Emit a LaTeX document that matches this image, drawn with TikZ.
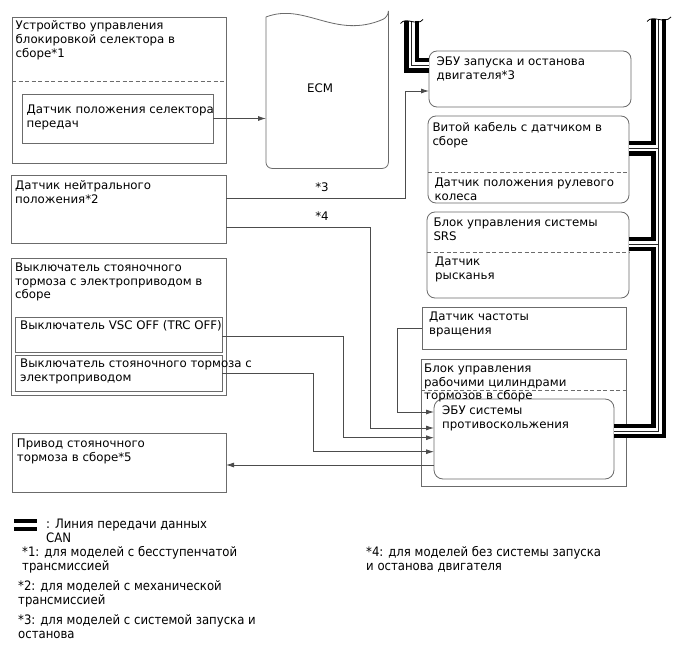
\documentclass[tikz,border=0pt]{standalone}
\usepackage{fontspec}
\setmainfont{DejaVu Sans}
\newfontfamily\condfont{DejaVu Sans Condensed}
\usetikzlibrary{arrows.meta}
\definecolor{boxgray}{gray}{0.42}
\definecolor{linegray}{gray}{0.3}
\newcommand\buspaths[1]{%
  \draw[#1] (busLtop) |- ([yshift=13.5pt]ecu.west);
  \draw[#1] ([yshift=8pt]abs.east) -| (busRtop);
  \draw[#1] ([yshift=11pt]twist.east) -- ([yshift=11pt]twist.east -| busRtop);
  \draw[#1] ([yshift=11pt]srs.east) -- ([yshift=11pt]srs.east -| busRtop);
}
\begin{document}
\begin{tikzpicture}[x=1pt,y=-1pt,
  box/.style={draw=boxgray, line width=0.8pt, anchor=north west, inner sep=0pt, outer sep=0pt},
  rbox/.style={box, rounded corners=8pt},
  txt/.style={anchor=north west, inner sep=0pt, align=left, font=\fontsize{11.8}{13.7}\selectfont},
  lgd/.style={anchor=north west, inner sep=0pt, align=left, font=\condfont\fontsize{13}{14.5}\selectfont},
  conn/.style={draw=linegray, line width=0.8pt},
  arr/.style={conn, -{Latex[length=8pt,width=5pt]}},
  dsh/.style={draw=boxgray, line width=0.8pt, dash pattern=on 4pt off 2.5pt},
  busblack/.style={line width=14.5pt, draw=black, line join=miter},
  buswhite/.style={line width=6pt, draw=white, line join=miter},
  busthin/.style={line width=0.9pt, draw=black!85, line join=miter},
  brk/.style={draw=black, line width=0.8pt},
]
\useasboundingbox (0,0) rectangle (688,658);
\fill[white] (0,0) rectangle (688,658);

% ---- boxes ----
\node[box, minimum width=214pt, minimum height=146pt] (b1) at (12,17) {};
\node[box, minimum width=191pt, minimum height=49pt] (b1in) at (22,94) {};
\node[box, minimum width=215pt, minimum height=68pt] (neut) at (11,175) {};
\node[box, minimum width=215pt, minimum height=137pt] (pa) at (11,258) {};
\node[box, minimum width=207pt, minimum height=35pt] (vsc) at (15,317) {};
\node[box, minimum width=207pt, minimum height=36pt] (psw) at (15,355) {};
\node[box, minimum width=214pt, minimum height=59pt] (act) at (12,433) {};
\node[rbox, minimum width=202pt, minimum height=56pt] (ecu) at (429,51) {};
\node[rbox, minimum width=201pt, minimum height=87pt] (twist) at (428,116) {};
\node[rbox, minimum width=202pt, minimum height=86pt] (srs) at (427,212) {};
\node[box, minimum width=204pt, minimum height=42pt] (speed) at (422,307) {};
\node[box, minimum width=205pt, minimum height=127pt] (bb) at (421,359) {};
\node[rbox, rounded corners=9pt, minimum width=180pt, minimum height=80pt] (abs) at (434,399) {};
\node[anchor=north west, inner sep=0pt, minimum width=122pt, minimum height=151pt] (ecmbox) at (266,17) {};

% ECM shape
\draw[boxgray, line width=0.8pt, rounded corners=6pt]
  (ecmbox.north west) .. controls (305,2) and (335,40) .. (ecmbox.north east)
  [sharp corners] -- (ecmbox.north east) [rounded corners=6pt] -- (ecmbox.south east) -- (ecmbox.south west) -- (ecmbox.north west);

% dashed separators
\draw[dsh] (b1.west |- 0,81) -- (b1.east |- 0,81);
\draw[dsh] (twist.west |- 0,172) -- (twist.east |- 0,172);
\draw[dsh] (srs.west |- 0,252) -- (srs.east |- 0,252);
\draw[dsh] (bb.west |- 0,390.7) -- (bb.east |- 0,390.7);

% ---- texts ----
\node[txt] (t1) at (15.5,20.5) {Устройство управления\\блокировкой селектора в\\сборе*1};
\node[txt] (t1in) at (26.5,104.5) {Датчик положения селектора\\передач};
\node[inner sep=0pt, font=\fontsize{11.8}{13.7}\selectfont] (tecm) at (320,88) {ECM};
\node[txt] (tecu) at (436.5,56.5) {ЭБУ запуска и останова\\двигателя*3};
\node[txt] (ttw) at (432.3,122.5) {Витой кабель с датчиком в\\сборе};
\node[txt] (ttw2) at (434.3,177.5) {Датчик положения рулевого\\колеса};
\node[txt] (tsrs) at (433.3,217.5) {Блок управления системы\\SRS};
\node[txt] (tsrs2) at (435,256.5) {Датчик\\рысканья};
\node[txt] (tsp) at (429,311.5) {Датчик частоты\\вращения};
\node[txt] (tbb) at (424,363.5) {Блок управления\\рабочими цилиндрами\\тормозов в сборе};
\node[txt] (tabs) at (442,405.5) {ЭБУ системы\\противоскольжения};
\node[txt] (tneut) at (15,180.5) {Датчик нейтрального\\положения*2};
\node[txt] (tpa) at (15,262.5) {Выключатель стояночного\\тормоза с электроприводом в\\сборе};
\node[txt] (tvsc) at (20,320.5) {Выключатель VSC OFF (TRC OFF)};
\node[txt] (tpsw) at (20,358.5) {Выключатель стояночного тормоза с\\электроприводом};
\node[txt] (tact) at (16.7,438.5) {Привод стояночного\\тормоза в сборе*5};
\node[inner sep=0pt, font=\fontsize{11.8}{13.7}\selectfont] (l3) at (322,187) {*3};
\node[inner sep=0pt, font=\fontsize{11.8}{13.7}\selectfont] (l4) at (322,216) {*4};

% ---- connectors ----
\draw[arr] (b1in.east) -- (b1in.east -| ecmbox.west);
\draw[arr] ([yshift=10.7pt]neut.east) -- ++(179,0) |- ([yshift=-12pt]ecu.west);
\draw[arr] ([yshift=-18.7pt]neut.east) -- ++(144,0) |- ([yshift=11pt]abs.west);
\draw[arr] (speed.west) -- ++(-25,0) |- ([yshift=27pt]abs.west);
\draw[arr] ([yshift=-1.5pt]vsc.east) -- ++(121,0) |- ([yshift=1.3pt]abs.west);
\draw[arr] (psw.east) -- ++(91,0) |- ([yshift=-12.7pt]abs.west);
\draw[arr] ([yshift=-26pt]abs.west) -- ([yshift=-26pt]abs.west -| act.east);

% ---- CAN bus ----
\coordinate (busLtop) at (411.5,21);
\coordinate (busRtop) at (658.5,19);
\buspaths{busblack}
\buspaths{buswhite}
\buspaths{busthin}
\draw[brk] (400.5,23.5) .. controls (406,16) and (417,27) .. (423,19.5);
\draw[brk] (647,21.5) .. controls (653,14) and (664,25) .. (671,17);

% ---- legend ----
\coordinate (lgA) at (14,521);
\coordinate (lgB) at (37,521);
\draw[line width=3.2pt] (lgA) -- (lgB);
\draw[line width=3.2pt] ([yshift=-8pt]lgA) -- ([yshift=-8pt]lgB);
\node[lgd] (lg0) at (46,518.5) {: Линия передачи данных\\CAN};
\node[lgd] (lg1) at (22,546) {*1: для моделей с бесступенчатой\\трансмиссией};
\node[lgd] (lg2) at (18,580) {*2: для моделей с механической\\трансмиссией};
\node[lgd] (lg3) at (18,614) {*3: для моделей с системой запуска и\\останова};
\node[lgd] (lg4) at (366,546) {*4: для моделей без системы запуска\\и останова двигателя};
\end{tikzpicture}
\end{document}
